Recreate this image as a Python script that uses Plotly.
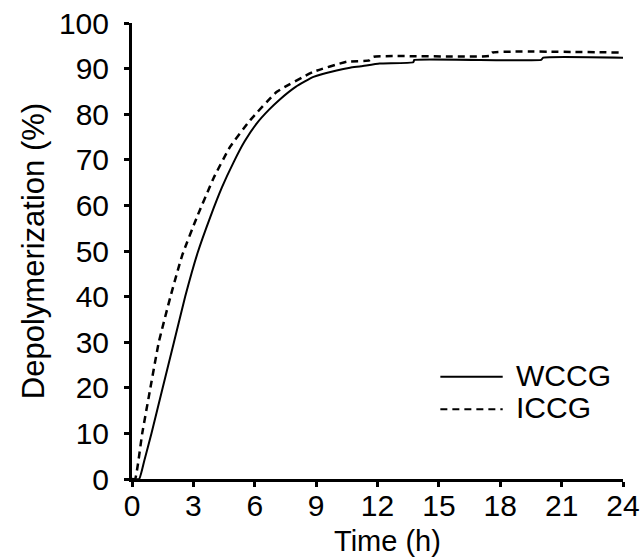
import plotly.graph_objects as go

# Data
wccg_t = [0, 0.35, 0.6, 0.95, 1.5, 2.05, 2.6, 3.2, 3.83, 4.4, 4.97, 5.5, 6.1, 6.7, 7.24, 8.0, 8.87, 10.0, 10.66, 11.2, 12.1, 13.75, 13.8, 20.0, 20.1, 24]
wccg_v = [0, 0, 4, 10, 20, 30, 40, 49.5, 57.5, 64, 69.5, 74, 78, 81, 83.3, 86.0, 88.2, 89.6, 90.2, 90.5, 91.1, 91.4, 91.9, 91.9, 92.4, 92.4]

iccg_t = [0, 0.15, 0.5, 0.9, 1.31, 1.88, 2.45, 3.18, 3.99, 4.8, 5.78, 7.08, 8.87, 10.5, 11.6, 11.8, 17.5, 17.6, 24]
iccg_v = [0, 0, 10, 20, 30, 40, 49, 57.5, 66, 72.9, 78.7, 84.9, 89.3, 91.5, 91.8, 92.6, 92.8, 93.5, 93.5]

x_ticks = [0, 3, 6, 9, 12, 15, 18, 21, 24]
y_ticks = [0, 10, 20, 30, 40, 50, 60, 70, 80, 90, 100]
series_names = ["WCCG", "ICCG"]
x_title = "Time (h)"
y_title = "Depolymerization (%)"

FONT = "Liberation Sans, Arial, sans-serif"

fig = go.Figure()
fig.add_trace(go.Scatter(x=wccg_t, y=wccg_v, mode="lines", name=series_names[0],
                         line=dict(color="black", width=2, shape="spline", smoothing=0.4),
                         showlegend=False))
fig.add_trace(go.Scatter(x=iccg_t, y=iccg_v, mode="lines", name=series_names[1],
                         line=dict(color="black", width=2.5, dash="7px,5px", shape="spline", smoothing=0.4),
                         showlegend=False))

# Manual legend (line samples + labels)
leg = [(0.224, "solid", 2, series_names[0]), (0.153, "7px,5px", 2.2, series_names[1])]
for yy, dash, w, name in leg:
    fig.add_shape(type="line", xref="paper", yref="paper", x0=0.628, x1=0.755, y0=yy, y1=yy,
                  line=dict(color="black", width=w, dash=dash))
    fig.add_annotation(xref="paper", yref="paper", x=0.778, y=yy + 0.003, text=name,
                       showarrow=False, xanchor="left", yanchor="middle",
                       font=dict(family=FONT, size=30, color="black"))

# x-axis title as annotation (placed just below tick labels)
fig.add_annotation(xref="paper", yref="paper", x=0.52, y=-0.136, text=x_title,
                   showarrow=False, xanchor="center", yanchor="middle",
                   font=dict(family=FONT, size=29, color="black"))

fig.update_layout(
    width=643, height=558,
    margin=dict(l=132, r=20, t=23, b=79, autoexpand=False),
    paper_bgcolor="white", plot_bgcolor="white",
    font=dict(family=FONT, color="black"),
)
fig.update_xaxes(range=[0, 24], tickvals=x_ticks, showgrid=False, zeroline=False,
                 showline=True, linecolor="black", linewidth=3, automargin=False,
                 ticks="outside", ticklen=5, tickwidth=2.5, tickcolor="black",
                 tickfont=dict(size=30), ticklabelstandoff=-7)
fig.update_yaxes(range=[0, 100], tickvals=y_ticks, showgrid=False, zeroline=False,
                 showline=True, linecolor="black", linewidth=3, automargin=False,
                 ticks="outside", ticklen=5, tickwidth=2.5, tickcolor="black",
                 tickfont=dict(size=30), ticklabelstandoff=9,
                 title=dict(text=y_title, font=dict(size=31), standoff=6))

fig.write_html("out.html", config={"displayModeBar": False},
               post_script="document.body.style.margin='0px';document.body.style.overflow='hidden';")
